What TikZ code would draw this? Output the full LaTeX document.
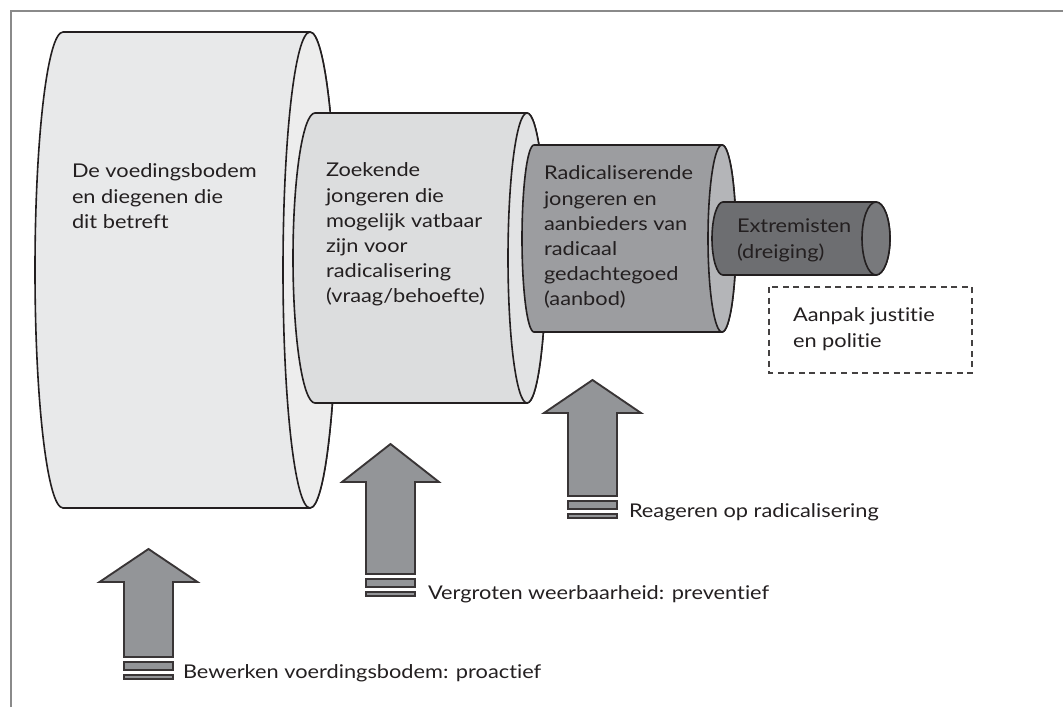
\documentclass[tikz,border=0pt]{standalone}
\usepackage{fontspec}
\setmainfont{Lato}[FakeStretch=1.15, Ligatures={NoCommon,NoRare,NoDiscretionary}]
\definecolor{ink}{HTML}{231F20}
\definecolor{frame}{HTML}{8A8A8A}
\definecolor{cOneBody}{HTML}{E8E9EA}
\definecolor{cOneFace}{HTML}{EDEDED}
\definecolor{cTwoBody}{HTML}{DCDDDE}
\definecolor{cTwoFace}{HTML}{E2E3E4}
\definecolor{cThreeBody}{HTML}{9C9DA0}
\definecolor{cThreeFace}{HTML}{B4B5B8}
\definecolor{cFourBody}{HTML}{6D6E71}
\definecolor{cFourFace}{HTML}{78797C}
\definecolor{arrowfill}{HTML}{939598}
\tikzset{
  cyl/.style={draw=ink, line width=1.2pt, line join=round},
  uparrow/.style={draw=ink!90, fill=arrowfill, line width=1.4pt, line join=miter},
  lbl/.style={inner sep=0pt, outer sep=0pt, text=ink, align=left, anchor=north west,
    font=\fontsize{14.2}{18.9}\selectfont},
  arrlbl/.style={inner sep=0pt, outer sep=0pt, text=ink, anchor=base west,
    font=\fontsize{14.2}{18.9}\selectfont},
  dashbox/.style={draw=ink!85, line width=1.1pt, dash pattern=on 4.5pt off 3.4pt}
}
% one cylinder: #1 left centre x, #2 right centre x, #3 top, #4 bottom, #5 left rx, #6 right rx, #7 body, #8 face
\newcommand{\mycyl}[8]{%
  \pgfmathsetmacro{\ry}{(#4-#3)/2}%
  \pgfmathsetmacro{\cy}{(#4+#3)/2}%
  \path[cyl, fill=#7] (#1,#3) -- (#2,#3) arc[start angle=-90, end angle=90, x radius=#6, y radius=\ry]
     -- (#1,#4) arc[start angle=90, end angle=270, x radius=#5, y radius=\ry] -- cycle;
  \path[cyl, fill=#8] (#2,\cy) ellipse[x radius=#6, y radius=\ry];
}
% up arrow: #1 centre x, #2 tip y, #3 head base y, #4 head half width, #5 shaft half width, #6 shaft bottom y
\newcommand{\myarrow}[6]{%
  \path[uparrow] (#1,#2) -- (#1+#4,#3) -- (#1+#5,#3) -- (#1+#5,#6) -- (#1-#5,#6) -- (#1-#5,#3) -- (#1-#4,#3) -- cycle;
  \path[uparrow] (#1-#5,#6+5) rectangle (#1+#5,#6+13);
  \path[uparrow] (#1-#5,#6+18) rectangle (#1+#5,#6+22);
}
\begin{document}
\begin{tikzpicture}[x=0.75pt, y=-0.75pt]
\useasboundingbox (0,0) rectangle (1063,707);
% frame (top and left edges)
\draw[frame, line width=1.5pt] (11,707) -- (11,11) -- (1063,11);

% cylinders
\mycyl{63}{310}{32}{508}{28}{27}{cOneBody}{cOneFace}
\mycyl{315}{527}{113}{403}{22}{19}{cTwoBody}{cTwoFace}
\mycyl{534}{722}{145}{332}{12}{14}{cThreeBody}{cThreeFace}
\mycyl{723}{876}{202}{275}{11}{14}{cFourBody}{cFourFace}

\node[lbl] (t1) at (72,164) {De voedingsbodem\\en diegenen die\\dit betreft};
\node[lbl] (t2) at (326,163) {Zoekende\\jongeren die\\mogelijk vatbaar\\zijn voor\\radicalisering\\(vraag/behoefte)};
\node[lbl] (t3) at (544,166) {Radicaliserende\\jongeren en\\aanbieders van\\radicaal\\gedachtegoed\\(aanbod)};
\node[lbl] (t4) at (737,219) {Extremisten\\(dreiging)};

% dashed box
\draw[dashbox] (769,287) rectangle (972,373);
\node[lbl] (t5) at (793,308) {Aanpak justitie\\en politie};

% arrows
\myarrow{148.5}{549}{582}{49}{24.5}{657}
\myarrow{390.5}{444}{482}{48.5}{24.5}{574}
\myarrow{592.5}{380}{413}{48.5}{24.5}{496}

\node[arrlbl] (a1) at (183,678) {Bewerken voerdingsbodem: proactief};
\node[arrlbl] (a2) at (428,599) {Vergroten weerbaarheid: preventief};
\node[arrlbl] (a3) at (629,517) {Reageren op radicalisering};
\end{tikzpicture}
\end{document}
